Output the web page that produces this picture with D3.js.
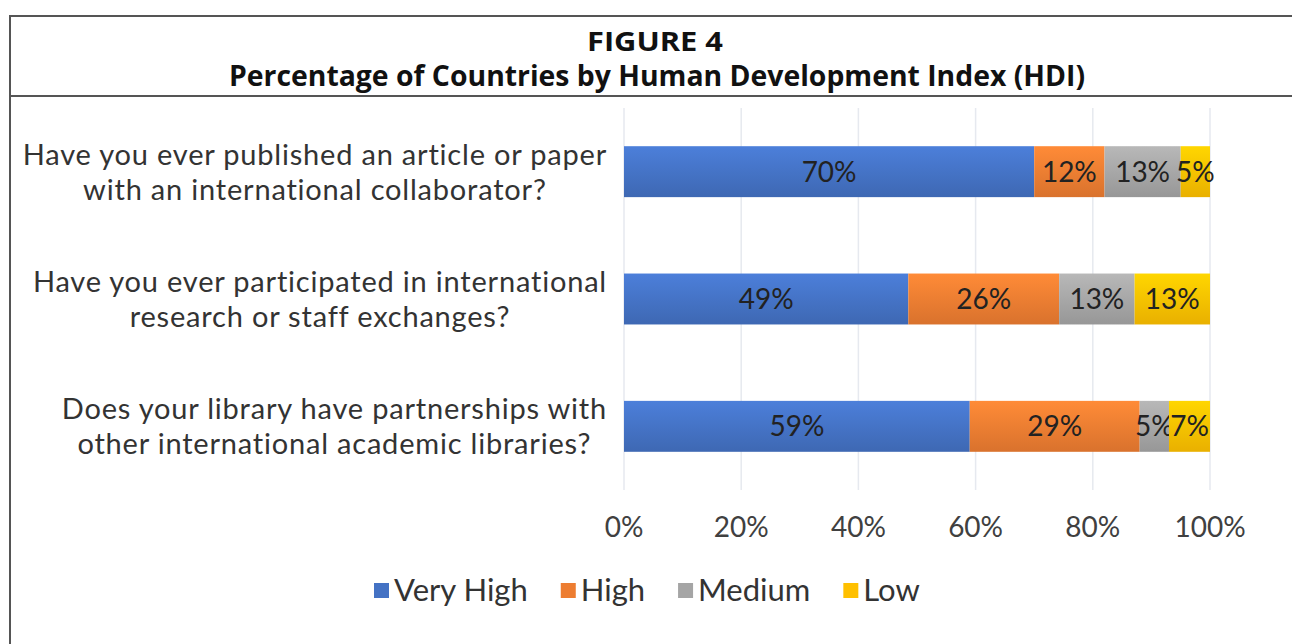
<!DOCTYPE html>
<html>
<head>
<meta charset="utf-8">
<script src="https://cdn.jsdelivr.net/npm/d3@7"></script>
<style>
  body { margin: 0; background: #fff; }
  svg { display: block; }
</style>
</head>
<body>
<svg id="chart" width="1292" height="644"></svg>
<script>
// questions (each split over two lines like the original)
var categories = [
  ["Have you ever published an article or paper", "with an international collaborator?"],
  ["Have you ever participated in international", "research or staff exchanges?"],
  ["Does your library have partnerships with", "other international academic libraries?"]
]
var seriesNames = ["Very High", "High", "Medium", "Low"]
var veryHigh = [70, 49, 59]
var high = [12, 26, 29]
var medium = [13, 13, 5]
var low = [5, 13, 7]
var tickLabels = ["0%", "20%", "40%", "60%", "80%", "100%"]

var colors = ["#4472C4", "#ED7D31", "#A5A5A5", "#FFC000"]

var svg = d3.select("#chart")
var W = 1292, H = 644

// frame + title box
svg.append("line").attr("x1", 10).attr("x2", W).attr("y1", 16).attr("y2", 16)
  .attr("stroke", "#555").attr("stroke-width", 2)
svg.append("line").attr("x1", 10).attr("x2", W).attr("y1", 96).attr("y2", 96)
  .attr("stroke", "#555").attr("stroke-width", 2)
svg.append("line").attr("x1", 10).attr("x2", 10).attr("y1", 15).attr("y2", H)
  .attr("stroke", "#555").attr("stroke-width", 2)

var titleFont = "'Open Sans', 'Noto Sans', sans-serif"
svg.append("text").attr("x", 655).attr("y", 51).attr("text-anchor", "middle")
  .attr("font-family", titleFont).attr("font-weight", 700).attr("font-size", 27)
  .attr("fill", "#111").attr("textLength", 136).attr("lengthAdjust", "spacingAndGlyphs")
  .text("FIGURE 4")
svg.append("text").attr("x", 657).attr("y", 86).attr("text-anchor", "middle")
  .attr("font-family", titleFont).attr("font-weight", 700).attr("font-size", 28)
  .attr("fill", "#111").attr("textLength", 856).attr("lengthAdjust", "spacingAndGlyphs")
  .text("Percentage of Countries by Human Development Index (HDI)")

// data table
var rows = categories.map(function(c, i) {
  return { cat: i, "Very High": veryHigh[i], "High": high[i], "Medium": medium[i], "Low": low[i] }
})
var stack = d3.stack().keys(seriesNames).offset(d3.stackOffsetExpand)
var layers = stack(rows)

var x = d3.scaleLinear().domain([0, 1]).range([624, 1210])
var y = d3.scaleBand().domain(d3.range(categories.length)).range([108, 490])
  .paddingInner(0.6).paddingOuter(0.3)

var font = "Lato, 'Open Sans', sans-serif"

// gradients (Excel-ish shading, lighter at top)
var defs = svg.append("defs")
seriesNames.forEach(function(s, i) {
  var c = d3.color(colors[i])
  var g = defs.append("linearGradient").attr("id", "grad" + i)
    .attr("x1", 0).attr("x2", 0).attr("y1", 0).attr("y2", 1)
  g.append("stop").attr("offset", "0%").attr("stop-color", c.brighter(0.3))
  g.append("stop").attr("offset", "100%").attr("stop-color", c.darker(0.25))
})

// gridlines
var gx = svg.append("g")
gx.selectAll("line").data(d3.range(0, 1.01, 0.2)).enter().append("line")
  .attr("x1", function(d) { return x(d) }).attr("x2", function(d) { return x(d) })
  .attr("y1", 108).attr("y2", 490)
  .attr("stroke", "#e6e9ef").attr("stroke-width", 1.5)

// bars
var layerG = svg.selectAll("g.layer").data(layers).enter().append("g")
  .attr("class", "layer")
  .attr("fill", function(d, i) { return "url(#grad" + i + ")" })
layerG.selectAll("rect").data(function(d) { return d }).enter().append("rect")
  .attr("x", function(d) { return x(d[0]) })
  .attr("width", function(d) { return x(d[1]) - x(d[0]) })
  .attr("y", function(d) { return y(d.data.cat) })
  .attr("height", y.bandwidth())

// value labels
layerG.each(function(layer) {
  d3.select(this).selectAll("text").data(layer).enter().append("text")
    .attr("x", function(d) { return (x(d[0]) + x(d[1])) / 2 })
    .attr("y", function(d) { return y(d.data.cat) + y.bandwidth() / 2 + 10 })
    .attr("text-anchor", "middle")
    .attr("font-family", font).attr("font-size", 28).attr("fill", "#222")
    .text(function(d) { return d.data[layer.key] + "%" })
})

// category labels: lines centred, block right-aligned to the axis
categories.forEach(function(lines, i) {
  var cy = y(i) + y.bandwidth() / 2
  var spans = lines.map(function(l, k) {
    return svg.append("text").attr("font-family", font).attr("font-size", 29)
      .attr("letter-spacing", 0.8)
      .attr("fill", "#333").attr("text-anchor", "middle")
      .attr("y", cy - 7 + k * 35).text(l)
  })
  var maxW = d3.max(spans, function(s) { return s.node().getComputedTextLength() })
  spans.forEach(function(s) { s.attr("x", 607 - maxW / 2) })
})

// x axis tick labels
svg.append("g").selectAll("text").data(tickLabels).enter().append("text")
  .attr("x", function(d, i) { return x(i * 0.2) })
  .attr("y", 537)
  .attr("text-anchor", "middle")
  .attr("font-family", font).attr("font-size", 28).attr("fill", "#404040")
  .text(function(d) { return d })

// legend
var leg = svg.append("g")
var lx = 374
seriesNames.forEach(function(s, i) {
  leg.append("rect").attr("x", lx).attr("y", 583).attr("width", 15).attr("height", 15)
    .attr("fill", colors[i])
  var t = leg.append("text").attr("x", lx + 20).attr("y", 601)
    .attr("font-family", font).attr("font-size", 31).attr("fill", "#333").text(s)
  lx += 20 + t.node().getComputedTextLength() + 33
})
</script>
</body>
</html>
